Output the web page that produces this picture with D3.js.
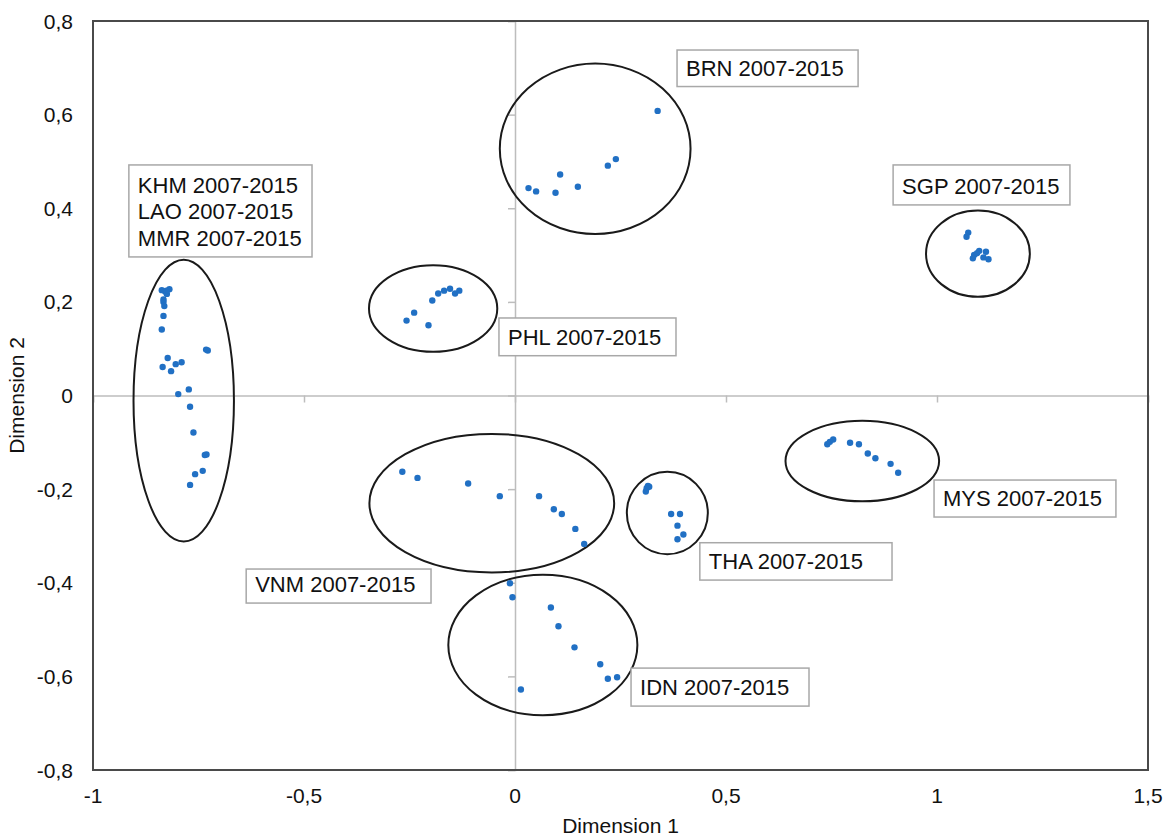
<!DOCTYPE html>
<html>
<head>
<meta charset="utf-8">
<script src="https://cdn.jsdelivr.net/npm/d3@7"></script>
<style>
  html, body { margin: 0; padding: 0; background: #fff; }
  svg { display: block; font-family: "Liberation Sans", Arial, Helvetica, sans-serif; }
</style>
</head>
<body>
<svg id="chart" width="1168" height="837"></svg>
<script>
/* ---- data (Dimension 1, Dimension 2) ---- */
const xTicks = [-1, -0.5, 0, 0.5, 1, 1.5];
const yTicks = [-0.8, -0.6, -0.4, -0.2, 0, 0.2, 0.4, 0.6, 0.8];

const kmlPoints = [  // KHM, LAO, MMR 2007-2015
  [-0.837, 0.225], [-0.829, 0.222], [-0.819, 0.227], [-0.825, 0.217], [-0.826, 0.224],
  [-0.833, 0.200], [-0.831, 0.191], [-0.833, 0.205], [-0.833, 0.170], [-0.837, 0.141],
  [-0.728, 0.096], [-0.732, 0.098], [-0.823, 0.080], [-0.835, 0.061], [-0.815, 0.052],
  [-0.804, 0.067], [-0.790, 0.071], [-0.773, 0.013], [-0.798, 0.003], [-0.770, -0.024],
  [-0.762, -0.079], [-0.731, -0.126], [-0.735, -0.127], [-0.740, -0.161], [-0.758, -0.168],
  [-0.770, -0.191]
];
const phlPoints = [
  [-0.257, 0.160], [-0.239, 0.177], [-0.205, 0.150], [-0.196, 0.203], [-0.182, 0.218],
  [-0.168, 0.224], [-0.154, 0.228], [-0.142, 0.218], [-0.132, 0.224]
];
const brnPoints = [
  [0.338, 0.608], [0.032, 0.443], [0.050, 0.436], [0.096, 0.433], [0.107, 0.472],
  [0.149, 0.446], [0.220, 0.491], [0.239, 0.505]
];
const sgpPoints = [
  [1.074, 0.348], [1.070, 0.339], [1.088, 0.300], [1.100, 0.309], [1.085, 0.293],
  [1.116, 0.307], [1.110, 0.295], [1.122, 0.291], [1.095, 0.304]
];
const vnmPoints = [
  [-0.267, -0.163], [-0.231, -0.176], [-0.111, -0.188], [-0.036, -0.215], [0.057, -0.215],
  [0.092, -0.243], [0.111, -0.253], [0.143, -0.285], [0.164, -0.317]
];
const thaPoints = [
  [0.318, -0.195], [0.315, -0.193], [0.312, -0.198], [0.310, -0.205], [0.370, -0.253],
  [0.391, -0.253], [0.385, -0.278], [0.399, -0.297], [0.385, -0.307]
];
const mysPoints = [
  [0.740, -0.104], [0.746, -0.099], [0.754, -0.094], [0.794, -0.101], [0.815, -0.104],
  [0.836, -0.124], [0.854, -0.134], [0.890, -0.146], [0.908, -0.165]
];
const idnPoints = [
  [-0.012, -0.401], [-0.006, -0.431], [0.085, -0.453], [0.103, -0.493], [0.141, -0.538],
  [0.202, -0.574], [0.220, -0.605], [0.242, -0.602], [0.014, -0.628]
];

// group outlines: centre and radii in data units
const groupEllipses = [
  { cx: -0.785, cy: -0.011, rx: 0.119, ry: 0.301 },
  { cx: -0.194, cy: 0.186, rx: 0.152, ry: 0.0925 },
  { cx: 0.190, cy: 0.527, rx: 0.226, ry: 0.182 },
  { cx: 1.097, cy: 0.303, rx: 0.123, ry: 0.092 },
  { cx: -0.055, cy: -0.230, rx: 0.290, ry: 0.148 },
  { cx: 0.361, cy: -0.251, rx: 0.096, ry: 0.088 },
  { cx: 0.823, cy: -0.140, rx: 0.182, ry: 0.086 },
  { cx: 0.066, cy: -0.533, rx: 0.224, ry: 0.150 }
];

// label boxes: corners in data units
const groupLabels = [
  { lines: ['KHM 2007-2015', 'LAO 2007-2015', 'MMR 2007-2015'], x0: -0.915, y0: 0.4925, x1: -0.481, y1: 0.296 },
  { lines: ['BRN 2007-2015'], x0: 0.384, y0: 0.738, x1: 0.813, y1: 0.660 },
  { lines: ['SGP 2007-2015'], x0: 0.896, y0: 0.4925, x1: 1.315, y1: 0.4071 },
  { lines: ['PHL 2007-2015'], x0: -0.038, y0: 0.1656, x1: 0.3815, y1: 0.085 },
  { lines: ['VNM 2007-2015'], x0: -0.637, y0: -0.3707, x1: -0.199, y1: -0.4434 },
  { lines: ['THA 2007-2015'], x0: 0.438, y0: -0.3145, x1: 0.8934, y1: -0.3943 },
  { lines: ['MYS 2007-2015'], x0: 0.993, y0: -0.1806, x1: 1.424, y1: -0.2596 },
  { lines: ['IDN 2007-2015'], x0: 0.275, y0: -0.5823, x1: 0.6967, y1: -0.6635 }
];

const allPoints = [].concat(kmlPoints, phlPoints, brnPoints, sgpPoints,
                            vnmPoints, thaPoints, mysPoints, idnPoints);

/* ---- layout ---- */
const margin = { top: 21, right: 20, bottom: 67, left: 93 };
const W = 1168, H = 837;
const iW = W - margin.left - margin.right;
const iH = H - margin.top - margin.bottom;

const svg = d3.select('#chart');

const x = d3.scaleLinear().domain([-1, 1.5]).range([margin.left, margin.left + iW]);
const y = d3.scaleLinear().domain([-0.8, 0.8]).range([margin.top + iH, margin.top]);

const fmt = v => String(+v.toFixed(1)).replace('.', ',');

// zero lines with their tick marks
const zeroX = svg.append('g')
  .attr('transform', `translate(0, ${y(0)})`)
  .call(d3.axisBottom(x).tickValues(xTicks).tickSize(7).tickFormat(''))
  .call(g => {
    g.select('.domain').attr('stroke', '#bdbdbd').attr('stroke-width', 1.5);
    g.selectAll('line').attr('stroke', '#bdbdbd').attr('stroke-width', 1.5);
  });

const zeroY = svg.append('g')
  .attr('transform', `translate(${x(0)}, 0)`)
  .call(d3.axisLeft(y).tickValues(yTicks).tickSize(7).tickFormat(''))
  .call(g => {
    g.select('.domain').attr('stroke', '#bdbdbd').attr('stroke-width', 1.5);
    g.selectAll('line').attr('stroke', '#bdbdbd').attr('stroke-width', 1.5);
  });

// plot frame
svg.append('rect')
  .attr('x', margin.left).attr('y', margin.top)
  .attr('width', iW).attr('height', iH)
  .attr('fill', 'none').attr('stroke', '#4a4a4a').attr('stroke-width', 2);

// tick labels
svg.append('g').selectAll('text')
  .data(yTicks).join('text')
  .attr('x', margin.left - 20).attr('y', d => y(d)).attr('dy', '0.36em')
  .attr('text-anchor', 'end').attr('font-size', 21).attr('fill', '#111')
  .text(fmt);

svg.append('g').selectAll('text')
  .data(xTicks).join('text')
  .attr('x', d => x(d)).attr('y', margin.top + iH + 33)
  .attr('text-anchor', 'middle').attr('font-size', 21).attr('fill', '#111')
  .text(fmt);

// axis titles
svg.append('text')
  .attr('x', margin.left + iW / 2).attr('y', 833)
  .attr('text-anchor', 'middle').attr('font-size', 21).attr('fill', '#111')
  .text('Dimension 1');

svg.append('text')
  .attr('transform', `translate(24, ${margin.top + iH / 2}) rotate(-90)`)
  .attr('text-anchor', 'middle').attr('font-size', 21).attr('fill', '#111')
  .text('Dimension 2');

// ellipses
svg.append('g').selectAll('ellipse')
  .data(groupEllipses).join('ellipse')
  .attr('cx', d => x(d.cx)).attr('cy', d => y(d.cy))
  .attr('rx', d => x(d.cx + d.rx) - x(d.cx))
  .attr('ry', d => y(d.cy) - y(d.cy + d.ry))
  .attr('fill', 'none').attr('stroke', '#1a1a1a').attr('stroke-width', 2);

// points
svg.append('g').selectAll('circle')
  .data(allPoints).join('circle')
  .attr('cx', d => x(d[0])).attr('cy', d => y(d[1]))
  .attr('r', 3.2)
  .attr('fill', '#2170c4');

// label boxes
const lab = svg.append('g').selectAll('g')
  .data(groupLabels).join('g');

lab.append('rect')
  .attr('x', d => x(d.x0)).attr('y', d => y(d.y0))
  .attr('width', d => x(d.x1) - x(d.x0))
  .attr('height', d => y(d.y1) - y(d.y0))
  .attr('fill', '#fff').attr('stroke', '#a8a8a8').attr('stroke-width', 1.5);

lab.each(function(d) {
  const g = d3.select(this);
  const left = x(d.x0) + 9;
  const bottom = y(d.y1);
  const n = d.lines.length;
  d.lines.forEach((t, i) => {
    g.append('text')
      .attr('x', left)
      .attr('y', bottom - 11 - (n - 1 - i) * 26.5)
      .attr('font-size', 22).attr('fill', '#111')
      .text(t);
  });
});
</script>
</body>
</html>
